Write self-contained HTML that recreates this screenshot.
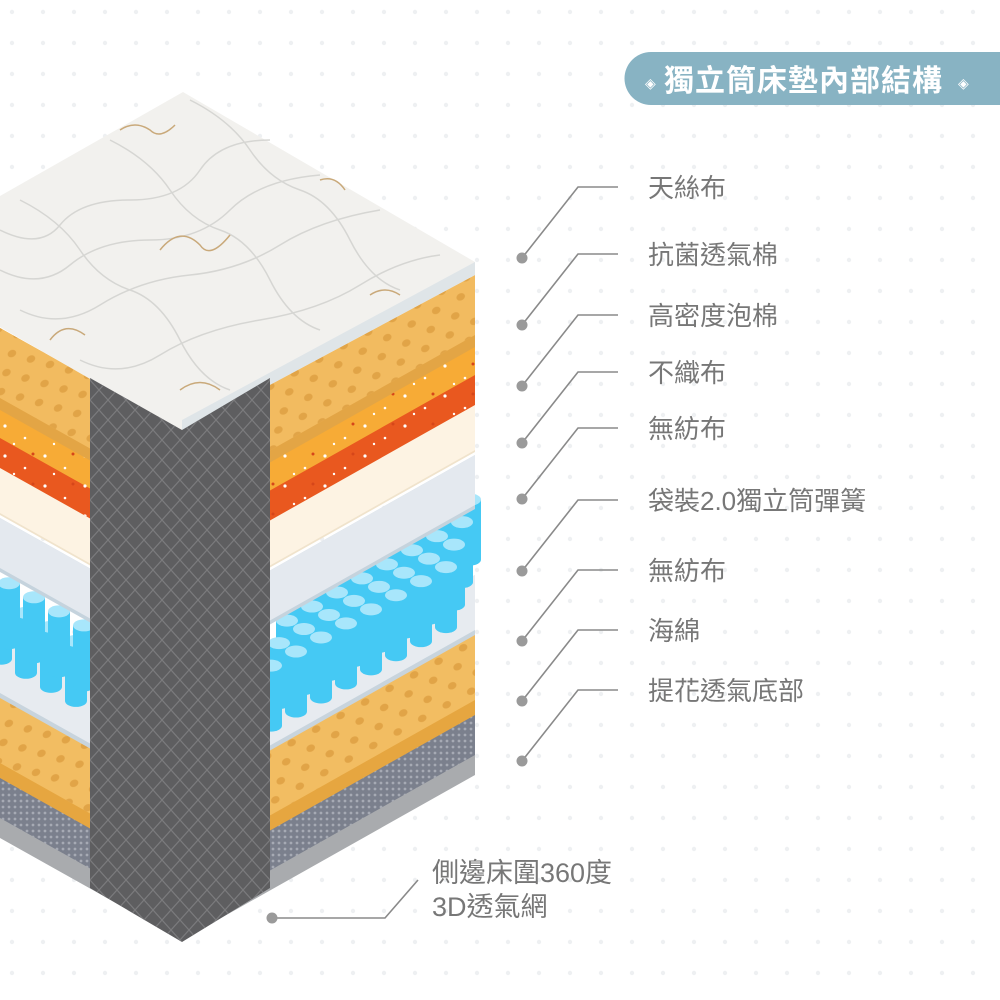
<!DOCTYPE html>
<html><head><meta charset="utf-8"><style>
html,body{margin:0;padding:0;background:#fff;}
svg{display:block}
text{font-family:"Liberation Sans","Noto Sans CJK TC",sans-serif;}
</style></head><body>
<svg id="s" width="1000" height="1000" viewBox="0 0 1000 1000" xmlns="http://www.w3.org/2000/svg">
<defs>
<pattern id="bg" width="31" height="31" patternUnits="userSpaceOnUse" x="8" y="8">
<circle cx="4" cy="4" r="2.2" fill="#eef0f2"/>
</pattern>
<pattern id="dia" width="18" height="20" patternUnits="userSpaceOnUse">
<path d="M0 0 L18 20 M18 0 L0 20" stroke="#7b7b7d" stroke-width="1.2"/>
</pattern>
<pattern id="dots" width="28" height="28" patternUnits="userSpaceOnUse" patternTransform="rotate(-29)">
<ellipse cx="7" cy="7" rx="4.5" ry="3.5" fill="#e1a447"/>
<ellipse cx="21" cy="21" rx="4.5" ry="3.5" fill="#e1a447"/>
</pattern>
<pattern id="mesh" width="6" height="6" patternUnits="userSpaceOnUse">
<rect width="6" height="6" fill="#7b808d"/><circle cx="3" cy="3" r="1.4" fill="#a6aab4"/>
</pattern>
<pattern id="speck" width="40" height="30" patternUnits="userSpaceOnUse">
<circle cx="5" cy="6" r="1.6" fill="#fff"/><circle cx="25" cy="18" r="1.3" fill="#fff"/><circle cx="33" cy="4" r="1.5" fill="#d6461a"/><circle cx="14" cy="24" r="1.2" fill="#fff"/>
</pattern>
</defs>
<rect width="1000" height="1000" fill="#fff"/>
<rect width="1000" height="1000" fill="url(#bg)"/>
<g id="layers"></g>
<g id="springs"></g>
<polygon points="0,196 183,92 475,262 475,275 182,432 0,327" fill="#f2f1ee"/>
<polygon points="182,420 475,262 475,275 182,432" fill="#dfe5e8"/>
<g fill="none" stroke="#d6d6d3" stroke-width="1.5">
<path d="M0 230 Q40 250 60 225 T130 200 T200 170 T270 140"/>
<path d="M0 270 Q40 290 70 265 T150 240 T230 210 T320 175"/>
<path d="M20 310 Q60 330 100 305 T190 275 T280 245 T380 210"/>
<path d="M80 360 Q120 380 160 355 T260 320 T360 285 T440 255"/>
<path d="M20 200 Q60 220 80 250 T130 290 T180 340 T230 390"/>
<path d="M110 140 Q150 160 170 190 T220 230 T270 280 T320 330"/>
<path d="M190 100 Q230 120 250 150 T300 190 T350 240 T400 290"/>
</g>
<g fill="none" stroke="#c9a97a" stroke-width="1.5">
<path d="M120 130 q15 -10 30 0 q10 10 25 -5"/><path d="M160 250 q20 -25 40 -5 q10 15 30 -10"/>
<path d="M50 340 q15 -20 35 -5"/><path d="M320 180 q15 -5 25 10"/><path d="M370 295 q15 -10 30 0"/>
<path d="M180 390 q20 -15 40 0"/>
</g>
<polygon points="90,378 182,430 270,378 270,888 182,942 90,888" fill="#5e5e60"/>
<polygon points="90,378 182,430 270,378 270,888 182,942 90,888" fill="url(#dia)"/>
<path d="M651 52 H1000 V105 H651 A26.5 26.5 0 0 1 651 52 Z" fill="#88b3c3"/>
<text x="645" y="88" font-size="14" fill="#fff">◈</text>
<text x="664" y="91" font-size="30" font-weight="bold" fill="#fff" letter-spacing="1">獨立筒床墊內部結構</text>
<text x="958" y="88" font-size="14" fill="#fff">◈</text>
<g id="labels" font-size="26" fill="#777"></g>
<g stroke="#8a8a8a" stroke-width="1.6" fill="none">
<polyline points="272,918 385,918 418,880"/>
</g>
<circle cx="272" cy="918" r="5.5" fill="#9a9a9a"/>
<text x="432" y="882" font-size="27" fill="#777">側邊床圍360度</text>
<text x="432" y="916" font-size="27" fill="#777">3D透氣網</text>
</svg>
<script>
var NS="http://www.w3.org/2000/svg";
function poly(g,a,b,fill){var p=document.createElementNS(NS,"polygon");
p.setAttribute("points",[0,a-52,182,a+50,475,a-115,475,b-115,182,b+50,0,b-52].join(","));
p.setAttribute("fill",fill);g.appendChild(p);}
var L=document.getElementById("layers");
poly(L,815,890,"#a9abae");poly(L,815,870,"url(#mesh)");
poly(L,735,830,"#e6a640");poly(L,735,815,"#f2bd62");poly(L,735,815,"url(#dots)");
poly(L,690,750,"#c8d4dd");poly(L,690,745,"#e7ebf0");
var S=document.getElementById("springs");
var sp=[];
for(var r=0;r<4;r++)for(var c=0;c<8;c++){
 var x=270+c*25+r*8-10, by=720-0.563*(x-270)-r*22+(r*4);
 sp.push([x,by]);}
sp.sort(function(p,q){return p[1]-q[1]});
function cyl(x,by){
 var h=60,w=22;
 var r=document.createElementNS(NS,"path");
 r.setAttribute("d","M"+x+" "+(by-h)+" v"+h+" a"+(w/2)+" 6 0 0 0 "+w+" 0 v-"+h+" z");
 r.setAttribute("fill","#45c9f4");S.appendChild(r);
 var e=document.createElementNS(NS,"ellipse");e.setAttribute("cx",x+w/2);e.setAttribute("cy",by-h);
 e.setAttribute("rx",w/2);e.setAttribute("ry",6);e.setAttribute("fill","#a8e6fb");S.appendChild(e);}
sp.forEach(function(p){cyl(p[0],p[1]);});
for(var r2=0;r2<2;r2++)for(var c2=0;c2<4;c2++){var x2=-10+c2*25+r2*8,by2=715+0.563*(x2-90)-r2*20;cyl(x2,by2);}
var L2=document.createElementNS(NS,"g");S.appendChild(L2);
poly(L2,570,624,"#c5d3dd");poly(L2,570,620,"#e4e9ef");
poly(L2,520,567,"#f0e3cc");poly(L2,518,565,"#fdf3e3");
poly(L2,460,520,"#e9581f");poly(L2,460,490,"#f7ab36");poly(L2,460,520,"url(#speck)");
poly(L2,380,462,"#e3a545");poly(L2,380,450,"#f2bb60");poly(L2,380,450,"url(#dots)");
var labs=[["天絲布",187],["抗菌透氣棉",254],["高密度泡棉",315],["不織布",372],["無紡布",428],["袋裝2.0獨立筒彈簧",500],["無紡布",570],["海綿",630],["提花透氣底部",690]];
var G=document.getElementById("labels");
labs.forEach(function(l){var y=l[1];
 var t=document.createElementNS(NS,"text");t.setAttribute("x",648);t.setAttribute("y",y+10);t.textContent=l[0];G.appendChild(t);
 var pl=document.createElementNS(NS,"polyline");pl.setAttribute("points","522,"+(y+71)+" 578,"+y+" 618,"+y);
 pl.setAttribute("stroke","#8a8a8a");pl.setAttribute("stroke-width","1.6");pl.setAttribute("fill","none");G.appendChild(pl);
 var c=document.createElementNS(NS,"circle");c.setAttribute("cx",522);c.setAttribute("cy",y+71);c.setAttribute("r",5.5);c.setAttribute("fill","#9a9a9a");G.appendChild(c);});
</script>
</body></html>
